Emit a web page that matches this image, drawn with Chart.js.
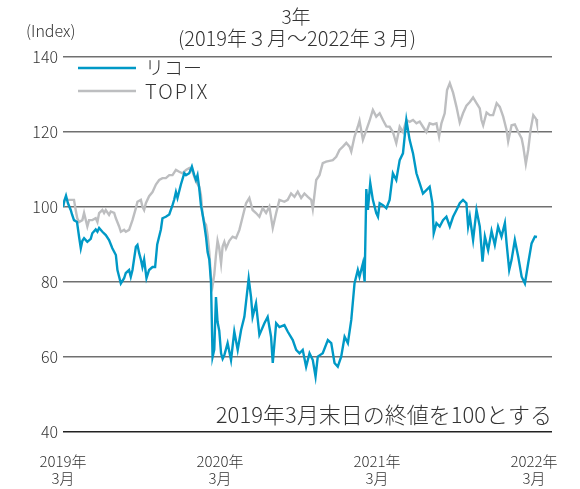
<!DOCTYPE html>
<html><head><meta charset="utf-8">
<script src="https://cdn.jsdelivr.net/npm/chart.js@4"></script>
<style>html,body{margin:0;padding:0;background:#fff}</style>
</head><body>
<canvas id="c" width="580" height="489"></canvas>
<script>
// months since end of March 2019
const ricohMonths = [0,0.08,0.23,0.38,0.59,0.69,0.84,1.07,1.23,1.36,1.48,1.61,1.86,2.12,2.24,2.50,2.63,2.76,3.01,3.27,3.52,3.77,4.04,4.16,4.29,4.42,4.67,4.80,5.05,5.18,5.31,5.57,5.69,5.82,5.95,6.07,6.20,6.38,6.58,6.84,7.04,7.20,7.48,7.60,7.86,8.12,8.37,8.50,8.63,8.75,9.01,9.27,9.40,9.65,9.85,10.03,10.16,10.28,10.41,10.54,10.67,10.80,10.93,11.05,11.18,11.31,11.43,11.56,11.69,11.81,11.94,12.08,12.20,12.33,12.58,12.84,13.09,13.35,13.61,13.86,14.19,14.37,14.49,14.75,15.01,15.39,15.64,15.90,16.03,16.29,16.54,16.92,17.17,17.56,17.82,18.07,18.32,18.58,18.84,19.09,19.30,19.47,19.85,20.24,20.50,20.75,21.00,21.26,21.52,21.77,22.03,22.28,22.53,22.66,22.92,23.05,23.18,23.30,23.48,23.68,23.94,24.07,24.20,24.45,24.71,24.96,25.21,25.47,25.73,25.98,26.24,26.49,26.75,27.01,27.26,27.51,27.77,28.02,28.23,28.33,28.54,28.79,29.04,29.30,29.56,29.81,30.07,30.32,30.57,30.83,30.96,31.09,31.34,31.60,31.85,32.06,32.24,32.49,32.75,33.00,33.25,33.51,33.77,33.90,34.10,34.28,34.53,34.79,35.05,35.30,35.55,35.81,36.06,36.22];
const ricoh = [100,101.4,103,101,99.2,98,96.5,96,92,89,91,91.7,90.7,91.5,93,94,93.4,94.4,93.4,92.5,91.2,89,87.2,83.2,81.4,79.6,81,82.4,83.2,81.4,83.2,89.4,89.9,87.7,86,84,86,81,83.2,84,84,90,94,97,97.4,98,100.5,102,104,102.4,106,109,108.5,109,110.8,108.5,107.2,108.5,105,100.5,98,95.2,92,88,86,80,60,62,76,69.4,67,61,59.5,60.5,63.7,59.2,66.8,61.9,67.2,70.7,80.9,76,70.7,74.3,65.9,69,70.7,65.4,58.4,69,68,68.5,66.8,64.5,61.9,61,61.9,57.4,61,59.2,54.8,60.1,61,64.5,63.7,58.4,57.4,60.1,65.4,63.7,69.9,79.7,83.2,81.4,85,80.1,104.8,99.2,106.4,101.9,98.4,97.4,101,100.5,99.7,101.9,109,107.2,112.5,114.3,123.2,117.9,114.3,109,106.3,103.6,104.5,105.4,101,93,95.7,94.8,96.5,97.4,94.8,97.4,99.2,101,101.9,101,94.8,97.4,91.2,99.2,94.8,85.4,92.1,88.5,93.6,89.9,94.8,92.1,95.7,90.3,83.2,85.9,91.2,86.7,81.4,79.6,85,90.3,92.1,92];
const topixMonths = [0,0.15,0.46,0.84,0.97,1.09,1.23,1.48,1.61,1.86,1.99,2.24,2.50,2.63,2.76,3.01,3.14,3.27,3.52,3.65,3.91,4.04,4.29,4.42,4.67,4.80,5.05,5.31,5.57,5.69,5.95,6.07,6.20,6.33,6.58,6.84,7.10,7.35,7.60,7.86,8.12,8.37,8.63,8.88,9.13,9.40,9.65,9.90,10.16,10.41,10.54,10.67,10.80,10.93,11.05,11.18,11.31,11.43,11.56,11.69,11.81,11.94,12.08,12.20,12.33,12.46,12.71,12.96,13.22,13.48,13.73,13.99,14.24,14.49,14.75,15.01,15.26,15.52,15.77,16.03,16.29,16.54,16.92,17.17,17.43,17.69,17.94,18.20,18.45,18.71,18.97,19.09,19.35,19.60,19.85,20.11,20.37,20.62,20.88,21.13,21.39,21.65,21.90,22.03,22.28,22.53,22.66,22.92,23.18,23.43,23.68,23.94,24.20,24.45,24.71,24.96,25.21,25.47,25.73,25.98,26.24,26.49,26.75,27.01,27.26,27.51,27.77,28.02,28.28,28.54,28.74,28.92,29.17,29.35,29.56,29.81,30.07,30.32,30.57,30.83,31.09,31.34,31.60,31.85,31.98,32.11,32.37,32.62,32.87,33.14,33.38,33.64,33.90,34.02,34.28,34.53,34.79,35.05,35.18,35.37,35.55,35.73,35.94,36.15,36.22];
const topix = [100,102,101.9,101.9,99.2,97,96,96.5,98.4,94.8,96.5,96.5,97,96,98.4,99.2,98.4,99.2,97.9,98.8,98.4,97,94.8,93.4,93.9,93.4,93.9,96.5,99.7,101.4,101.9,100.1,99.2,101,102.9,104,106,107.2,107.7,107.7,108.5,108.5,109.9,109.4,109,109.9,110.4,109.4,106.8,105.4,103.2,98,96,95.2,92.5,88,81,79,82,87.2,91,89,85,89.5,90.7,89,91,92.1,91.7,93.9,97.4,101,102.4,99.2,98.4,97.4,99.7,98.4,100.1,94.4,98.4,101.9,101.4,101.9,103.6,102.7,104.1,102.4,103.6,102.7,101.9,99.5,107.2,108.5,111.7,112.1,112.3,112.5,113.4,115.2,116.1,117.1,116.1,114.8,118.8,121.4,123,117.9,120.5,123,125.9,124.1,125,123.2,121.5,121.4,120,117,121.4,120,123.2,122.7,123.2,122.3,122.8,121.4,120,122.3,122,122.3,118.8,122.3,125,131.2,133,130.5,126.7,122.5,125,127,128,129.2,127.7,126.3,123.2,121.8,125.2,124.5,124.5,127.7,126.7,124.1,120.5,117.5,121.8,122,120,118.3,116,111.5,115.2,120.5,124.5,123.5,122.3];
const seriesNames = ["リコー", "TOPIX"];
const yTicks = [40, 60, 80, 100, 120, 140];
const xTickMonths = [0, 12, 24, 36];
const xTickLabels = [["2019年","3月"],["2020年","3月"],["2021年","3月"],["2022年","3月"]];
const titleLines = ["3年", "(2019年３月〜2022年３月)"];
const yUnit = "(Index)";
const note = "2019年3月末日の終値を100とする";

const FONT = "'Noto Sans CJK JP','Noto Sans',sans-serif";
const BLUE = '#0099c6';
const GRAY = '#bdbec0';
const TXT = '#333333';

const toPts = (xs, ys) => xs.map((x, i) => ({x: x, y: ys[i]}));

const textPlugin = {
  id: 'texts',
  afterDraw(chart) {
    const ctx = chart.ctx;
    const a = chart.chartArea;
    ctx.save();
    ctx.fillStyle = TXT;
    ctx.textBaseline = 'middle';
    ctx.textAlign = 'center';
    ctx.font = '300 19px ' + FONT;
    ctx.fillText(titleLines[0], 296, 17);
    ctx.font = '300 20px ' + FONT;
    ctx.fillText(titleLines[1], 297, 38);
    ctx.textAlign = 'left';
    ctx.font = '300 16px ' + FONT;
    ctx.fillText(yUnit, 26, 31);
    ctx.textAlign = 'right';
    ctx.font = '300 22px ' + FONT;
    ctx.fillText(note, a.right, 415);
    // legend
    const items = [[BLUE, 68], [GRAY, 91]];
    ctx.textAlign = 'left';
    ctx.font = '300 19px ' + FONT;
    items.forEach((it, i) => {
      ctx.strokeStyle = it[0];
      ctx.lineWidth = 2.5;
      ctx.beginPath();
      ctx.moveTo(78, it[1]);
      ctx.lineTo(136, it[1]);
      ctx.stroke();
      ctx.fillStyle = TXT;
      if (i === 1) { ctx.font = '300 20px ' + FONT; ctx.letterSpacing = '2px'; }
      ctx.fillText(seriesNames[i], 145, it[1]);
    });
    ctx.restore();
  }
};

new Chart(document.getElementById('c'), {
  type: 'line',
  data: {
    datasets: [
      {label: seriesNames[0], data: toPts(ricohMonths, ricoh), borderColor: BLUE, borderWidth: 2.4, pointRadius: 0, tension: 0, fill: false},
      {label: seriesNames[1], data: toPts(topixMonths, topix), borderColor: GRAY, borderWidth: 2.4, pointRadius: 0, tension: 0, fill: false}
    ]
  },
  options: {
    responsive: false,
    animation: false,
    events: [],
    layout: {padding: {top: 57, right: 28, left: 0, bottom: 0}},
    plugins: {legend: {display: false}, tooltip: {enabled: false}, title: {display: false}},
    scales: {
      x: {
        type: 'linear', min: 0, max: 37.37,
        grid: {display: false, drawTicks: false},
        border: {display: false},
        afterBuildTicks: s => { s.ticks = xTickMonths.map(v => ({value: v})); },
        afterFit: s => { s.height = 57; },
        ticks: {
          autoSkip: false, maxRotation: 0, padding: 21,
          color: TXT, font: {family: FONT, size: 15, weight: 300, lineHeight: 1.12},
          callback: v => xTickLabels[xTickMonths.indexOf(v)]
        }
      },
      y: {
        min: 40, max: 140,
        afterBuildTicks: s => { s.ticks = yTicks.map(v => ({value: v})); },
        afterFit: s => { s.width = 63; },
        border: {display: false},
        grid: {
          drawTicks: false,
          color: c => c.tick && c.tick.value === 40 ? '#222' : '#707070',
          lineWidth: 1.4
        },
        ticks: {padding: 5, color: TXT, font: {family: FONT, size: 16, weight: 300}}
      }
    }
  },
  plugins: [textPlugin]
});
</script>
</body></html>
